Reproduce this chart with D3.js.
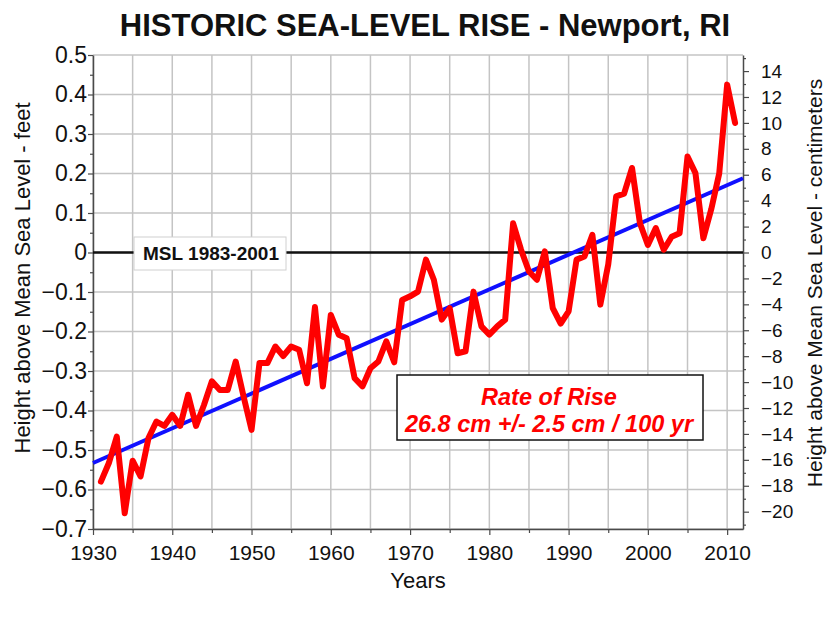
<!DOCTYPE html>
<html>
<head>
<meta charset="utf-8">
<script src="https://cdn.jsdelivr.net/npm/d3@7/dist/d3.min.js"></script>
<style>
  html, body { margin: 0; padding: 0; background: #fff; }
  svg { display: block; font-family: "Liberation Sans", Arial, sans-serif; }
</style>
</head>
<body>
<svg id="chart" width="835" height="623"></svg>
<script>
// Annual mean sea level at Newport, RI (feet, relative to MSL 1983-2001)
const years = d3.range(1931, 2012);
const levelFeet = [
  -0.580, -0.533, -0.466, -0.660, -0.527, -0.567, -0.470, -0.428, -0.439, -0.411,
  -0.439, -0.360, -0.439, -0.386, -0.326, -0.348, -0.348, -0.276, -0.365, -0.449,
  -0.280, -0.280, -0.238, -0.262, -0.238, -0.246, -0.331, -0.138, -0.339, -0.158,
  -0.208, -0.217, -0.318, -0.339, -0.293, -0.276, -0.225, -0.278, -0.120, -0.111,
  -0.099, -0.018, -0.069, -0.170, -0.141, -0.255, -0.250, -0.099, -0.187, -0.208,
  -0.187, -0.170,  0.074,  0.007, -0.048, -0.069,  0.003, -0.141, -0.180, -0.149,
  -0.018, -0.010,  0.045, -0.132, -0.030,  0.142,  0.149,  0.214,  0.074,  0.019,
   0.062,  0.007,  0.040,  0.049,  0.243,  0.201,  0.036,  0.110,  0.200,  0.425,
   0.328
];

// Linear trend: 26.8 cm per 100 years, starting from its 1930 value
const trendRateCmPerCentury = 26.8;
const trendStartYear = 1930;
const trendEndYear = 2012;
const trendStartFeet = -0.533;
const CM_PER_FOOT = 30.48;

// Axis ticks
const feetTicks = d3.range(-7, 6).map(d => d / 10);
const feetMinorTicks = d3.range(-7, 5).map(d => d / 10 + 0.05);
const yearTicks = d3.range(1930, 2011, 10);
const yearMinorTicks = d3.range(1935, 2011, 10);
const yearGrid = d3.range(1930, 2011, 5);
const cmTicks = d3.range(-20, 15, 2);
const cmMinorTicks = d3.range(-21, 16, 1).filter(d => d % 2 !== 0);

const svg = d3.select("#chart");
const plotLeft = 93, plotRight = 743, plotTop = 55, plotBottom = 529;

const x = d3.scaleLinear().domain([1930, 2012]).range([plotLeft, plotRight]);
const y = d3.scaleLinear().domain([-0.7, 0.5]).range([plotBottom, plotTop]);
const yCm = d3.scaleLinear().domain([-0.7 * CM_PER_FOOT, 0.5 * CM_PER_FOOT]).range([plotBottom, plotTop]);

const axisColor = "#4a4a4a";
const gridColor = "#c4c4c4";
const FONT = '"Liberation Sans", Arial, sans-serif';

// Grid
const grid = svg.append("g");
grid.selectAll("line.v").data(yearGrid).join("line")
  .attr("class", "v")
  .attr("x1", d => x(d)).attr("x2", d => x(d))
  .attr("y1", plotTop).attr("y2", plotBottom)
  .attr("stroke", gridColor).attr("stroke-width", 1.5);
grid.selectAll("line.h").data(feetTicks).join("line")
  .attr("class", "h")
  .attr("x1", plotLeft).attr("x2", plotRight)
  .attr("y1", d => y(d)).attr("y2", d => y(d))
  .attr("stroke", gridColor).attr("stroke-width", 1.5);

// Axes
function styleAxis(size) {
  return g => {
    g.selectAll("path.domain").attr("stroke", axisColor).attr("stroke-width", 1.5);
    g.selectAll(".tick line").attr("stroke", axisColor).attr("stroke-width", 1.2);
    g.selectAll(".tick text").attr("fill", "#111").style("font-size", size + "px")
      .style("font-family", FONT);
  };
}

svg.append("g").attr("transform", `translate(${plotLeft},0)`)
  .call(d3.axisLeft(y).tickValues(feetTicks).tickSize(5).tickPadding(1).tickSizeOuter(0)
    .tickFormat(d => d === 0 ? "0" : d3.format(".1f")(d)))
  .call(styleAxis(23));
svg.append("g").attr("transform", `translate(${plotLeft},0)`)
  .call(d3.axisLeft(y).tickValues(feetMinorTicks).tickSize(3).tickFormat("").tickSizeOuter(0))
  .call(g => g.select("path.domain").remove())
  .call(styleAxis(23));

svg.append("g").attr("transform", `translate(0,${plotBottom})`)
  .call(d3.axisBottom(x).tickValues(yearTicks).tickSize(6).tickPadding(10).tickSizeOuter(0)
    .tickFormat(d3.format("d")))
  .call(styleAxis(21));
svg.append("g").attr("transform", `translate(0,${plotBottom})`)
  .call(d3.axisBottom(x).tickValues(yearMinorTicks).tickSize(4).tickFormat("").tickSizeOuter(0))
  .call(g => g.select("path.domain").remove())
  .call(styleAxis(21));

svg.append("g").attr("transform", `translate(${plotRight},0)`)
  .call(d3.axisRight(yCm).tickValues(cmTicks).tickSize(6).tickPadding(12).tickSizeOuter(0))
  .call(styleAxis(19));
svg.append("g").attr("transform", `translate(${plotRight},0)`)
  .call(d3.axisRight(yCm).tickValues(cmMinorTicks).tickSize(3).tickFormat("").tickSizeOuter(0))
  .call(g => g.select("path.domain").remove())
  .call(styleAxis(19));

// MSL reference line
svg.append("line")
  .attr("x1", plotLeft).attr("x2", plotRight)
  .attr("y1", y(0)).attr("y2", y(0))
  .attr("stroke", "#111").attr("stroke-width", 2.5);

// Trend line
const trend = [trendStartYear, trendEndYear].map(yr => [
  yr, trendStartFeet + (trendRateCmPerCentury / CM_PER_FOOT) * (yr - trendStartYear) / 100
]);
svg.append("path")
  .datum(trend)
  .attr("d", d3.line().x(d => x(d[0])).y(d => y(d[1])))
  .attr("fill", "none").attr("stroke", "#1010ff").attr("stroke-width", 4);

// Observed annual sea level
svg.append("path")
  .datum(years.map((yr, i) => [yr, levelFeet[i]]))
  .attr("d", d3.line().x(d => x(d[0])).y(d => y(d[1])))
  .attr("fill", "none").attr("stroke", "#ff0000").attr("stroke-width", 6)
  .attr("stroke-linejoin", "round").attr("stroke-linecap", "round");

// MSL label
const mslLabel = svg.append("g");
mslLabel.append("rect")
  .attr("x", 134).attr("y", 237).attr("width", 152).attr("height", 33)
  .attr("fill", "#fff").attr("stroke", "#d0d0d0").attr("stroke-width", 1);
mslLabel.append("text")
  .attr("x", 211).attr("y", 260)
  .attr("text-anchor", "middle")
  .attr("font-weight", "bold").attr("font-size", 19).attr("fill", "#111")
  .text("MSL 1983-2001");

// Rate of rise box
const rateBox = svg.append("g");
rateBox.append("rect")
  .attr("x", 397).attr("y", 375).attr("width", 306).attr("height", 65)
  .attr("fill", "#fff").attr("stroke", "#111").attr("stroke-width", 1.5);
rateBox.append("text")
  .attr("x", 549).attr("y", 405)
  .attr("text-anchor", "middle")
  .attr("font-weight", "bold").attr("font-style", "italic")
  .attr("font-size", 23.5).attr("fill", "#ff0000")
  .text("Rate of Rise");
rateBox.append("text")
  .attr("x", 549).attr("y", 432)
  .attr("text-anchor", "middle")
  .attr("font-weight", "bold").attr("font-style", "italic")
  .attr("font-size", 23.5).attr("fill", "#ff0000")
  .text(`${trendRateCmPerCentury} cm +/- 2.5 cm / 100 yr`);

// Titles
svg.append("text")
  .attr("x", 425).attr("y", 36)
  .attr("text-anchor", "middle")
  .attr("font-weight", "bold").attr("font-size", 31).attr("fill", "#111")
  .text("HISTORIC SEA-LEVEL RISE - Newport, RI");

svg.append("text")
  .attr("x", 418).attr("y", 588)
  .attr("text-anchor", "middle")
  .attr("font-size", 22).attr("fill", "#111")
  .text("Years");

svg.append("text")
  .attr("transform", `translate(30,278) rotate(-90)`)
  .attr("text-anchor", "middle")
  .attr("font-size", 22).attr("fill", "#111")
  .text("Height above Mean Sea Level - feet");

svg.append("text")
  .attr("transform", `translate(822,283) rotate(-90)`)
  .attr("text-anchor", "middle")
  .attr("font-size", 21).attr("fill", "#111")
  .text("Height above Mean Sea Level - centimeters");
</script>
</body>
</html>
